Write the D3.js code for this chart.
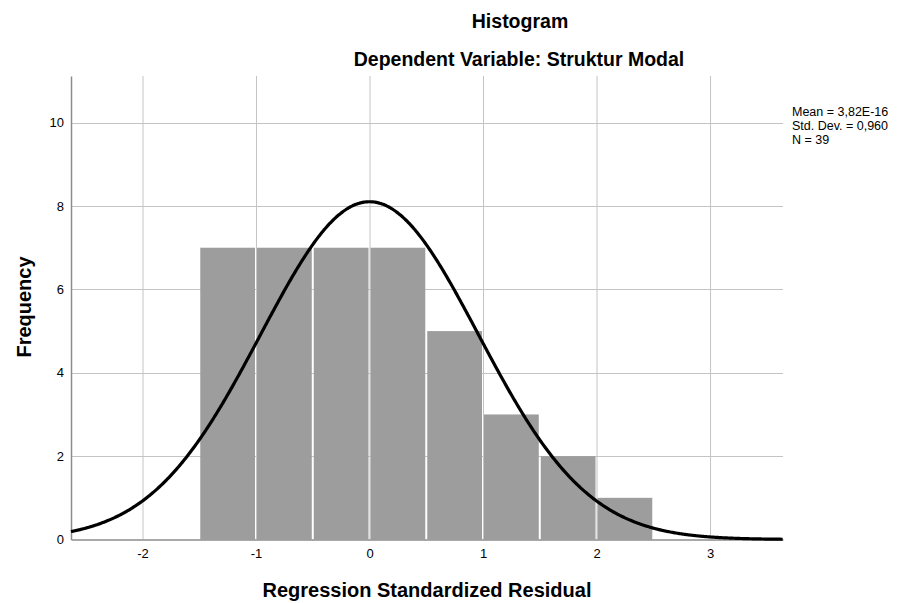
<!DOCTYPE html>
<html>
<head>
<meta charset="utf-8">
<script src="https://cdn.jsdelivr.net/npm/d3@7"></script>
<style>
  body { margin: 0; background: #fff; }
  text { font-family: 'Liberation Sans', Arial, sans-serif; fill: #000; }
</style>
</head>
<body>
<svg id="chart" width="899" height="603"></svg>
<script>
// histogram bins of the regression standardized residual
const binStart = [-1.5, -1.0, -0.5, 0.0, 0.5, 1.0, 1.5, 2.0]
const binWidth = 0.5
const counts = [7, 7, 7, 7, 5, 3, 2, 1]

const xTicks = [-2, -1, 0, 1, 2, 3]
const yTicks = [0, 2, 4, 6, 8, 10]

const mean = 3.82e-16
const stdDev = 0.960
const n = 39
const statLines = ['Mean = 3,82E-16', 'Std. Dev. = 0,960', 'N = 39']

const svg = d3.select('#chart')

const plot = { left: 71, right: 783, top: 76, bottom: 539.5 }

const x = d3.scaleLinear()
  .domain([-2.63, 3.643])
  .range([plot.left, plot.right])

const y = d3.scaleLinear()
  .domain([0, 11.12])
  .range([plot.bottom, plot.top])

// grid
svg.append('g')
  .selectAll('line')
  .data(xTicks)
  .enter().append('line')
    .attr('x1', d => x(d) + 0.5)
    .attr('x2', d => x(d) + 0.5)
    .attr('y1', plot.top)
    .attr('y2', plot.bottom)
    .attr('stroke', '#c4c4c4')
    .attr('stroke-width', 1)

svg.append('g')
  .selectAll('line')
  .data(yTicks.filter(d => d > 0))
  .enter().append('line')
    .attr('x1', plot.left)
    .attr('x2', plot.right)
    .attr('y1', d => Math.round(y(d)) + 0.5)
    .attr('y2', d => Math.round(y(d)) + 0.5)
    .attr('stroke', '#c4c4c4')
    .attr('stroke-width', 1)

// bars
svg.append('g')
  .selectAll('rect')
  .data(counts)
  .enter().append('rect')
    .attr('x', (d, i) => x(binStart[i]) + 1)
    .attr('width', (d, i) => x(binStart[i] + binWidth) - x(binStart[i]) - 2)
    .attr('y', d => y(d))
    .attr('height', d => y(0) - y(d))
    .attr('fill', '#9d9d9d')

// axes lines
const xAxis = d3.axisBottom(x).tickValues(xTicks).tickSize(0).tickPadding(9)
  .tickFormat(d => String(d))
svg.append('g')
  .attr('transform', `translate(0,${plot.bottom})`)
  .call(xAxis)
  .call(g => g.select('.domain').attr('stroke', '#8c8c8c').attr('stroke-width', 1.5))
  .call(g => g.selectAll('text').attr('font-size', 13).style('font-family', 'Liberation Sans, Arial, sans-serif'))

const yAxis = d3.axisLeft(y).tickValues(yTicks).tickSize(0).tickPadding(7)
  .tickFormat(d => String(d))
svg.append('g')
  .attr('transform', `translate(${plot.left},0)`)
  .call(yAxis)
  .call(g => g.select('.domain').attr('stroke', '#8c8c8c').attr('stroke-width', 1.5))
  .call(g => g.selectAll('text').attr('font-size', 13).style('font-family', 'Liberation Sans, Arial, sans-serif'))

// normal curve
const scale = n * binWidth
const pdf = v => scale * Math.exp(-0.5 * Math.pow((v - mean) / stdDev, 2)) / (stdDev * Math.sqrt(2 * Math.PI))
const curveX = d3.range(-2.63, 3.645, 0.01)
const line = d3.line()
  .x(d => x(d))
  .y(d => y(pdf(d)))
  .curve(d3.curveBasis)

svg.append('path')
  .datum(curveX)
  .attr('d', line)
  .attr('fill', 'none')
  .attr('stroke', '#000')
  .attr('stroke-width', 3.2)

// titles
svg.append('text')
  .attr('x', 520)
  .attr('y', 28)
  .attr('text-anchor', 'middle')
  .attr('font-size', 19.5)
  .attr('font-weight', 'bold')
  .text('Histogram')

svg.append('text')
  .attr('x', 519)
  .attr('y', 66)
  .attr('text-anchor', 'middle')
  .attr('font-size', 19.5)
  .attr('font-weight', 'bold')
  .text('Dependent Variable: Struktur Modal')

svg.append('text')
  .attr('x', 427)
  .attr('y', 597)
  .attr('text-anchor', 'middle')
  .attr('font-size', 20)
  .attr('font-weight', 'bold')
  .text('Regression Standardized Residual')

svg.append('text')
  .attr('transform', 'translate(31,307) rotate(-90)')
  .attr('text-anchor', 'middle')
  .attr('font-size', 20)
  .attr('font-weight', 'bold')
  .text('Frequency')

// stats box
svg.append('g')
  .selectAll('text')
  .data(statLines)
  .enter().append('text')
    .attr('x', 792)
    .attr('y', (d, i) => 116 + i * 14)
    .attr('font-size', 12.5)
    .text(d => d)
</script>
</body>
</html>
